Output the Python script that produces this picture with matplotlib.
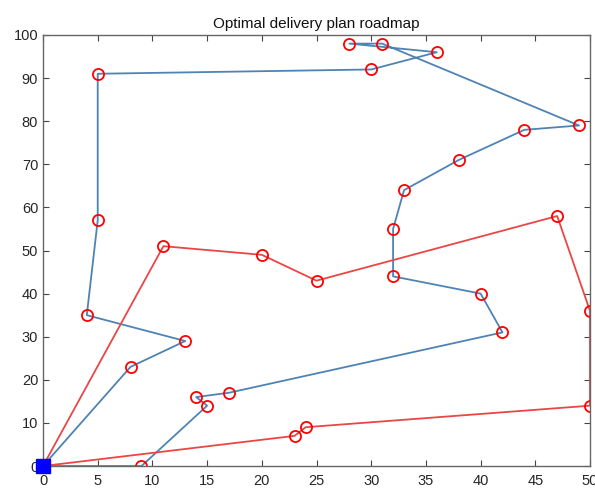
import matplotlib.pyplot as plt

plt.rcParams['font.family'] = ['Liberation Sans', 'DejaVu Sans']

# route 1 (blue) and route 2 (red), both start and end at the depot
route1_x = [0, 8, 13, 4, 5, 5, 30, 36, 28, 31, 49, 44, 38, 33, 32, 32, 40, 42, 17, 14, 15, 9, 0]
route1_y = [0, 23, 29, 35, 57, 91, 92, 96, 98, 98, 79, 78, 71, 64, 55, 44, 40, 31, 17, 16, 14, 0, 0]
route2_x = [0, 11, 20, 25, 47, 50, 50, 24, 23, 0]
route2_y = [0, 51, 49, 43, 58, 36, 14, 9, 7, 0]
depot = (0, 0)

fig = plt.figure(figsize=(5.95, 4.92), dpi=100)
ax = fig.add_axes([0.0723, 0.0528, 0.9193, 0.8761])

ax.plot(route1_x, route1_y, color='#4f83b3', lw=1.3)
ax.plot(route2_x, route2_y, color='#eb4646', lw=1.3)
ax.plot(route1_x[1:-1], route1_y[1:-1], 'o', mfc='none', mec='red', ms=8, mew=1.3)
ax.plot(route2_x[1:-1], route2_y[1:-1], 'o', mfc='none', mec='red', ms=8, mew=1.3)
ax.plot(*depot, 's', color='blue', ms=10, clip_on=False, zorder=5)

ax.set_xlim(0, 50)
ax.set_ylim(0, 100)
ax.set_xticks(range(0, 51, 5))
ax.set_yticks(range(0, 101, 10))
ax.tick_params(direction='in', top=True, right=True, length=4, width=0.8,
               color='#444444', labelcolor='#262626', labelsize=10.5)
ax.tick_params(axis='x', pad=6)
for s in ax.spines.values():
    s.set_color('#666666')
    s.set_linewidth(1.0)
ax.set_title('Optimal delivery plan roadmap', fontsize=11, color='#111111', pad=5)

fig.savefig('out.png', dpi=100)
